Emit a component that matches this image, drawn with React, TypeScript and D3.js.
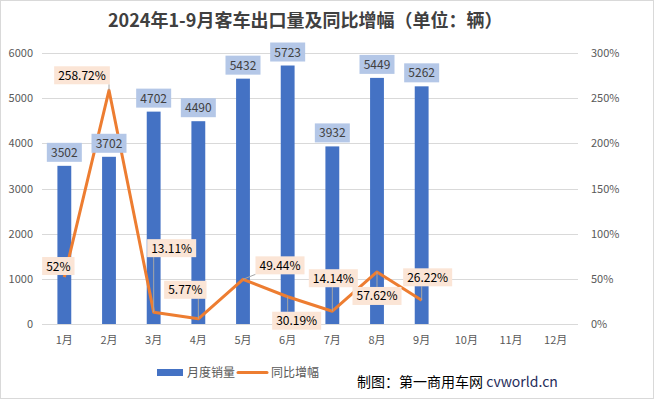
import * as d3 from "d3";
import React, { useEffect, useRef } from "react";

const months = ["1月", "2月", "3月", "4月", "5月", "6月", "7月", "8月", "9月", "10月", "11月", "12月"];
const sales = [3502, 3702, 4702, 4490, 5432, 5723, 3932, 5449, 5262];
const growth = [52, 258.72, 13.11, 5.77, 49.44, 30.19, 14.14, 57.62, 26.22];
const growthText = ["52%", "258.72%", "13.11%", "5.77%", "49.44%", "30.19%", "14.14%", "57.62%", "26.22%"];
const leftTicks = [0, 1000, 2000, 3000, 4000, 5000, 6000];
const rightTicks = [0, 50, 100, 150, 200, 250, 300];

// label box offsets (dx, dy) from the data point, as placed in the original
const pctOffsets = [
    [-6, -11], [-27, -15], [18, -64], [-13, -29], [37, -14],
    [9, 24], [1, -33], [0, 24], [6, -23],
];

const W = 654;
const H = 399;
const FONT = "'Noto Sans CJK SC', 'Noto Sans', sans-serif";

const App = () => {
    const ref = useRef<SVGSVGElement>(null);

    useEffect(() => {
        const svg = d3.select(ref.current);
        svg.selectAll("*").remove();

        const margin = { left: 42, right: 76, top: 53, bottom: 75 };
        const x = d3.scaleBand().domain(months).range([margin.left, W - margin.right]).padding(0);
        const y = d3.scaleLinear().domain([0, 6000]).range([H - margin.bottom, margin.top]);
        const y2 = d3.scaleLinear().domain([0, 300]).range([H - margin.bottom, margin.top]);
        const cx = (i: number) => (x(months[i]) as number) + x.bandwidth() / 2;

        // frame
        svg.append("rect").attr("x", 0.5).attr("y", 0.5).attr("width", W - 1).attr("height", H - 1)
            .attr("fill", "#fff").attr("stroke", "#D9D9D9");

        svg.append("text").attr("x", 108).attr("y", 27)
            .attr("font-family", FONT).attr("font-weight", "bold").attr("font-size", 18)
            .attr("fill", "#404040").text("2024年1-9月客车出口量及同比增幅（单位：辆）");

        // grid + axes
        svg.append("g").selectAll("line").data(leftTicks).enter().append("line")
            .attr("x1", margin.left).attr("x2", W - margin.right)
            .attr("y1", d => Math.round(y(d)) + 0.5).attr("y2", d => Math.round(y(d)) + 0.5)
            .attr("stroke", "#D9D9D9");

        svg.append("g").selectAll("text").data(leftTicks).enter().append("text")
            .attr("x", 33).attr("y", d => y(d) + 4).attr("text-anchor", "end")
            .attr("font-family", FONT).attr("font-size", 11).attr("fill", "#595959").text(d => d);

        svg.append("g").selectAll("text").data(rightTicks).enter().append("text")
            .attr("x", 591).attr("y", d => y2(d) + 4)
            .attr("font-family", FONT).attr("font-size", 11).attr("fill", "#595959").text(d => d + "%");

        svg.append("g").selectAll("text").data(months).enter().append("text")
            .attr("x", d => (x(d) as number) + x.bandwidth() / 2).attr("y", 344).attr("text-anchor", "middle")
            .attr("font-family", FONT).attr("font-size", 11).attr("fill", "#595959").text(d => d);

        // bars
        const bw = x.bandwidth() * 0.31;
        svg.append("g").selectAll("rect").data(sales).enter().append("rect")
            .attr("x", (d, i) => cx(i) - bw / 2).attr("width", bw)
            .attr("y", d => y(d)).attr("height", d => y(0) - y(d))
            .attr("fill", "#4472C4");

        // line
        const line = d3.line<number>().x((d, i) => cx(i)).y(d => y2(d));
        svg.append("path").datum(growth).attr("d", line)
            .attr("fill", "none").attr("stroke", "#ED7D31").attr("stroke-width", 3)
            .attr("stroke-linejoin", "round");

        // bar value labels
        const barLabels = svg.append("g");
        sales.forEach((v, i) => {
            barLabels.append("rect").attr("x", cx(i) - 17.5).attr("y", y(v) - 23)
                .attr("width", 35).attr("height", 19).attr("fill", "#B4C7E7");
            barLabels.append("text").attr("x", cx(i)).attr("y", y(v) - 9).attr("text-anchor", "middle")
                .attr("font-family", FONT).attr("font-size", 12).attr("fill", "#404040").text(v);
        });

        // growth labels with leader lines
        const leaders = svg.append("g");
        const pctG = svg.append("g");
        growth.forEach((v, i) => {
            const px = cx(i);
            const py = y2(v);
            const lx = px + pctOffsets[i][0];
            const ly = py + pctOffsets[i][1];
            const g = pctG.append("g");
            const t = g.append("text").attr("x", lx).attr("y", ly + 4.5).attr("text-anchor", "middle")
                .attr("font-family", FONT).attr("font-size", 12).attr("fill", "#000").text(growthText[i]);
            const bb = (t.node() as SVGTextElement).getBBox();
            const bwid = bb.width + 8;
            const bh = 18;
            const x0 = lx - bwid / 2;
            const y0 = ly - bh / 2;
            const nx = Math.max(x0, Math.min(px, x0 + bwid));
            const ny = Math.max(y0, Math.min(py, y0 + bh));
            if (Math.hypot(nx - px, ny - py) > 5) {
                leaders.append("line").attr("x1", nx).attr("y1", ny).attr("x2", px).attr("y2", py)
                    .attr("stroke", "#A6A6A6").attr("stroke-width", 1);
            }
            g.insert("rect", "text").attr("x", x0).attr("y", y0).attr("width", bwid).attr("height", bh)
                .attr("fill", "#FBE5D6");
        });

        // legend
        const lg = svg.append("g").attr("font-family", FONT).attr("font-size", 12).attr("fill", "#595959");
        lg.append("rect").attr("x", 157).attr("y", 369).attr("width", 26).attr("height", 7).attr("fill", "#4472C4");
        lg.append("text").attr("x", 187).attr("y", 377).text("月度销量");
        lg.append("line").attr("x1", 238).attr("x2", 267).attr("y1", 372.5).attr("y2", 372.5)
            .attr("stroke", "#ED7D31").attr("stroke-width", 3).attr("stroke-linecap", "round");
        lg.append("text").attr("x", 271).attr("y", 377).text("同比增幅");

        const wm = svg.append("text").attr("x", 357).attr("y", 387)
            .attr("font-family", FONT).attr("font-size", 14).attr("fill", "#000");
        wm.append("tspan").text("制图：第一商用车网 ");
        wm.append("tspan").attr("fill", "#1F2D5A").text("cvworld.cn");
    }, []);

    return (
        <svg ref={ref} width={W} height={H} style={{ display: "block", position: "absolute", left: 0, top: 0 }} />
    );
};

export default App;
